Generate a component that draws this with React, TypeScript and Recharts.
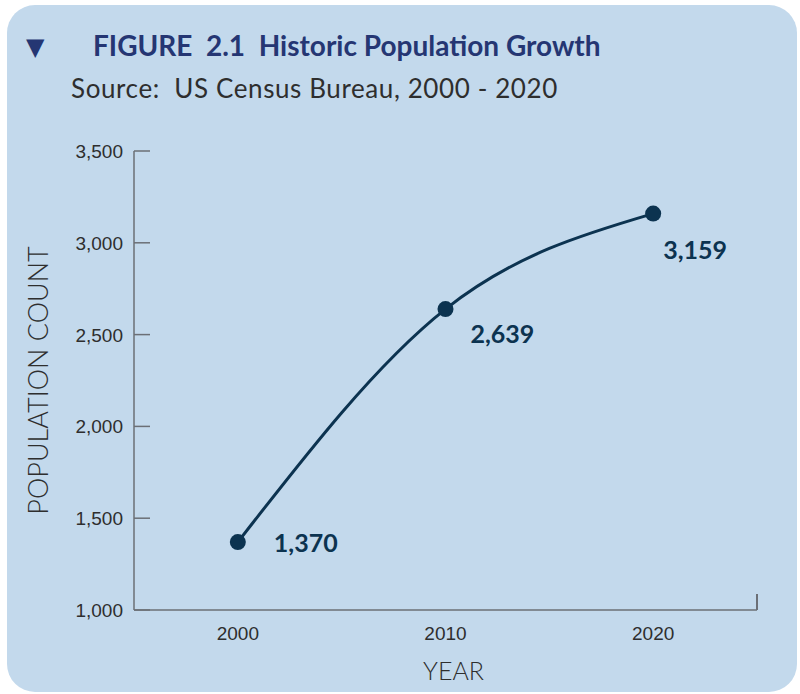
import React from 'react';
import { LineChart, Line, XAxis, YAxis } from 'recharts';

const years = [2000, 2010, 2020];
const population = [1370, 2639, 3159];
const yTicks = [1000, 1500, 2000, 2500, 3000, 3500];
const xTicks = [2000, 2010, 2020, 2025];
const xDomain = [1995, 2025];
const yDomain = [1000, 3500];

const TITLE = 'FIGURE\u00a0\u00a02.1\u00a0\u00a0Historic Population Growth';
const SOURCE = 'Source:\u00a0\u00a0US Census Bureau, 2000 - 2020';

const data = years.map((y, i) => ({ year: y, pop: population[i] }));

const NAVY = '#0c3350';
const AXIS = '#6b6f76';
const TEXT = '#2e2e2e';
const LABEL_OFFSETS = [
  { dx: 36, dy: 0 },
  { dx: 25, dy: 24 },
  { dx: 10, dy: 35 },
];

const fmt = (v: number) => v.toLocaleString('en-US');

const YTick = (props: any) => {
  const { x, y, payload } = props;
  const ax = x + 11;
  return (
    <g>
      <line x1={ax} x2={ax + 16} y1={y} y2={y} stroke={AXIS} strokeWidth={1.5} />
      <text x={x} y={y} dy={7} textAnchor="end" fontFamily="'Liberation Sans', Arial, sans-serif" fontSize={19} fill={TEXT}>
        {fmt(payload.value)}
      </text>
    </g>
  );
};

const XTick = (props: any) => {
  const { x, y, payload } = props;
  if (payload.value === 2025) {
    const ay = y - 16;
    return <line x1={x} x2={x} y1={ay} y2={ay - 16} stroke={AXIS} strokeWidth={2} />;
  }
  return (
    <text x={x} y={y} dy={14} textAnchor="middle" fontFamily="'Liberation Sans', Arial, sans-serif" fontSize={19} fill={TEXT}>
      {payload.value}
    </text>
  );
};

const YLabel = (props: any) => {
  const vb = props.viewBox || {};
  const cx = vb.x + 17;
  const cy = vb.y + vb.height / 2;
  return (
    <text x={cx} y={cy} transform={`rotate(-90, ${cx}, ${cy})`} textAnchor="middle" dominantBaseline="central"
      fontFamily="Lato, sans-serif" fontWeight={300} fontSize={27} fill={TEXT}>
      POPULATION COUNT
    </text>
  );
};

const XLabel = (props: any) => {
  const vb = props.viewBox || {};
  const cx = vb.x + vb.width / 2 + 8;
  return (
    <text x={cx} y={vb.y + 70} textAnchor="middle" fontFamily="Lato, sans-serif" fontWeight={300} fontSize={25} fill={TEXT}>
      YEAR
    </text>
  );
};

const ValueLabel = (props: any) => {
  const { x, y, value, index } = props;
  const o = LABEL_OFFSETS[index] || { dx: 20, dy: 20 };
  return (
    <text x={x + o.dx} y={y + o.dy} dominantBaseline="central" fontFamily="Lato, sans-serif" fontWeight={700} fontSize={25} fill={NAVY}>
      {fmt(value)}
    </text>
  );
};

export default function App() {
  return (
    <div style={{ position: 'absolute', left: 0, top: 0, width: 800, height: 694, background: '#fff', overflow: 'hidden' }}>
      <div style={{ position: 'absolute', left: 7, top: 5, width: 790, height: 687, background: '#c3d9ec', borderRadius: 28 }} />
      <div style={{ position: 'absolute', left: 26, top: 27, fontFamily: "'DejaVu Sans', sans-serif", fontSize: 24, color: '#253673', lineHeight: '40px' }}>
        ▼
      </div>
      <div style={{ position: 'absolute', left: 93, top: 25, fontFamily: 'Lato, sans-serif', fontWeight: 700, fontSize: 28, color: '#253673', lineHeight: '40px', whiteSpace: 'nowrap' }}>
        {TITLE}
      </div>
      <div style={{ position: 'absolute', left: 71, top: 70, fontFamily: 'Lato, sans-serif', fontSize: 26, letterSpacing: 0.6, color: TEXT, lineHeight: '36px', whiteSpace: 'nowrap' }}>
        {SOURCE}
      </div>
      <div style={{ position: 'absolute', left: 0, top: 0 }}>
        <LineChart width={800} height={694} data={data} margin={{ top: 151, right: 43, bottom: 54, left: 20 }}>
          <XAxis dataKey="year" type="number" domain={xDomain} ticks={xTicks} tick={<XTick />} tickLine={false}
            tickSize={0} tickMargin={16} height={30} stroke={AXIS} strokeWidth={1.5} interval={0} allowDataOverflow
            label={<XLabel />} />
          <YAxis type="number" domain={yDomain} ticks={yTicks} tick={<YTick />} tickLine={false} tickSize={0}
            tickMargin={11} width={114} stroke={AXIS} strokeWidth={1.5} interval={0} allowDataOverflow
            label={<YLabel />} />
          <Line type="natural" dataKey="pop" stroke={NAVY} strokeWidth={3}
            dot={{ r: 8, fill: NAVY, stroke: NAVY, strokeWidth: 0 }} activeDot={false}
            isAnimationActive={false} label={<ValueLabel />} />
        </LineChart>
      </div>
    </div>
  );
}
